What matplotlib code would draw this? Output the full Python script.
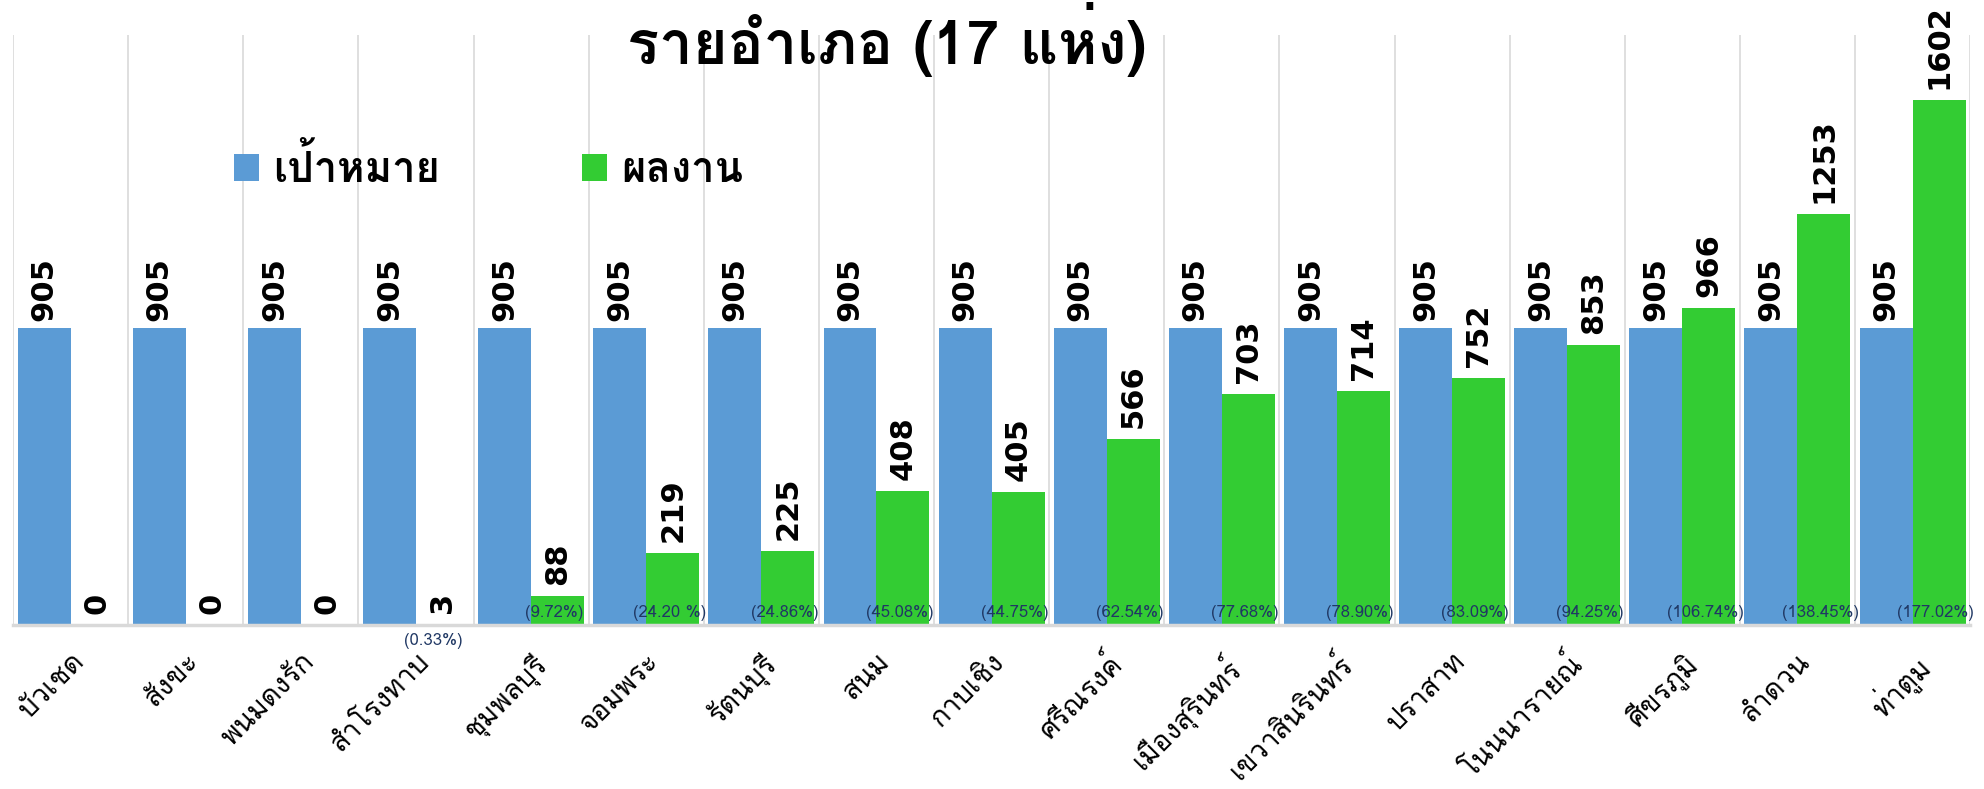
import numpy as np
import matplotlib
matplotlib.use('Agg')
import matplotlib.pyplot as plt
from matplotlib import font_manager
from matplotlib.ft2font import FT2Font

# data
districts = ['บัวเชด', 'สังขะ', 'พนมดงรัก', 'สำโรงทาบ', 'ชุมพลบุรี', 'จอมพระ', 'รัตนบุรี',
             'สนม', 'กาบเชิง', 'ศรีณรงค์', 'เมืองสุรินทร์', 'เขวาสินรินทร์', 'ปราสาท',
             'โนนนารายณ์', 'ศีขรภูมิ', 'ลำดวน', 'ท่าตูม']
target = [905] * 17
result = [0, 0, 0, 3, 88, 219, 225, 408, 405, 566, 703, 714, 752, 853, 966, 1253, 1602]
pct_labels = ['', '', '', '(0.33%)', '(9.72%)', '(24.20 %)', '(24.86%)', '(45.08%)',
              '(44.75%)', '(62.54%)', '(77.68%)', '(78.90%)', '(83.09%)', '(94.25%)',
              '(106.74%)', '(138.45%)', '(177.02%)']


def find_thai_font():
    # look for any installed font that actually has Thai glyphs
    for f in font_manager.fontManager.ttflist:
        try:
            if ord('ก') in FT2Font(f.fname).get_charmap():
                return f.name
        except Exception:
            pass
    return 'DejaVu Sans'


thai_font = find_thai_font()
plt.rcParams['font.family'] = [thai_font, 'DejaVu Sans']

BLUE = '#5B9BD5'
GREEN = '#33CC33'
GRID = '#D9D9D9'
NAVY = '#203864'

fig = plt.figure(figsize=(19.84, 7.89), dpi=100)
ax = fig.add_axes([0.0066, 0.208, 0.9864, 0.748])

x = np.arange(len(districts))
w = 0.46
b1 = ax.bar(x - w / 2, target, w, color=BLUE, label='เป้าหมาย', zorder=2)
b2 = ax.bar(x + w / 2, result, w, color=GREEN, label='ผลงาน', zorder=2)

for rect, v in zip(b1, target):
    ax.annotate(str(v), (rect.get_x() + rect.get_width() / 2, v), xytext=(0, 5),
                textcoords='offset points', rotation=90, ha='center', va='bottom',
                fontsize=22, fontweight='bold', family='DejaVu Sans', annotation_clip=False)
for rect, v in zip(b2, result):
    ax.annotate(str(v), (rect.get_x() + rect.get_width() / 2, v), xytext=(0, 8),
                textcoords='offset points', rotation=90, ha='center', va='bottom',
                fontsize=22, fontweight='bold', family='DejaVu Sans', annotation_clip=False)

# percentage labels sit near the base of each pair
for i, lab in enumerate(pct_labels):
    if not lab:
        continue
    if result[i] < 20:
        ax.annotate(lab, (i + 0.15, 0), xytext=(0, -6), textcoords='offset points',
                    ha='center', va='top', fontsize=12, color=NAVY, annotation_clip=False)
    else:
        ax.annotate(lab, (i + 0.2, 0), xytext=(0, 3), textcoords='offset points',
                    ha='center', va='bottom', fontsize=12, color=NAVY)

# vertical separators between districts
for xb in np.arange(-0.5, len(districts), 1.0):
    ax.axvline(xb, color=GRID, lw=1.2, zorder=1)

ax.set_xlim(-0.5, len(districts) - 0.5)
ax.set_ylim(0, 1800)
ax.set_yticks([])
ax.set_xticks(x)
ax.set_xticklabels(districts, rotation=45, ha='right', rotation_mode='anchor', fontsize=20)
ax.tick_params(axis='x', length=0, pad=17)
for s in ['top', 'right', 'left']:
    ax.spines[s].set_visible(False)
ax.spines['bottom'].set_color(GRID)
ax.spines['bottom'].set_linewidth(2.5)

ax.legend(loc='center', bbox_to_anchor=(0.243, 0.775), ncol=2, frameon=False,
          prop={'size': 30, 'weight': 'bold'}, handlelength=0.6, handleheight=0.6,
          handletextpad=0.35, columnspacing=3.4)

fig.text(0.447, 0.95, 'รายอำเภอ (17 แห่ง)', ha='center', va='center',
         fontsize=43, fontweight='bold')

fig.savefig('out.png', dpi=100)
